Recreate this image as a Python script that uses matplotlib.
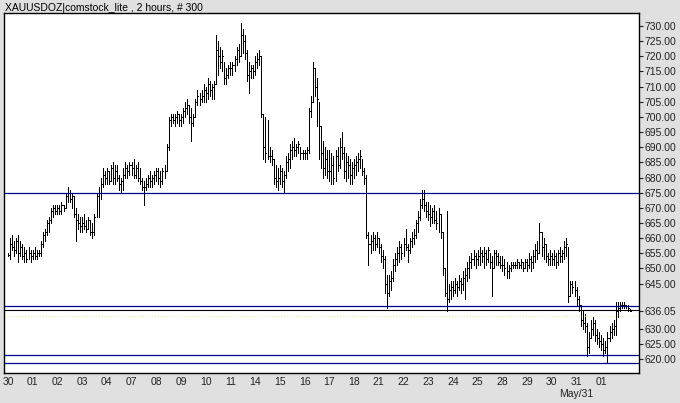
import matplotlib
matplotlib.use("Agg")
from matplotlib import pyplot as plt
import matplotlib.transforms as mtransforms

plt.rcParams["font.family"] = ["Liberation Sans", "DejaVu Sans"]

# 2-hour bars, 12 per session (last session a bit longer)
highs = [
    655, 660, 661, 659, 660, 661, 659, 658, 657, 656, 657, 656,
    656, 657, 656, 656, 659, 662, 663, 666, 667, 670, 671, 671,
    671, 671, 672, 671, 675, 677, 676, 675, 674, 670, 668, 667,
    667, 668, 666, 667, 666, 665, 668, 675, 677, 680, 683, 682,
    683, 682, 684, 685, 684, 684, 681, 680, 683, 685, 684, 685,
    685, 686, 684, 685, 683, 680, 679, 680, 681, 682, 681, 682,
    683, 683, 682, 683, 684, 691, 700, 701, 701, 701, 702, 701,
    701, 703, 705, 706, 704, 703, 701, 706, 709, 708, 709, 711,
    710, 713, 712, 711, 712, 727, 725, 723, 722, 718, 716, 717,
    718, 718, 720, 723, 724, 731, 729, 727, 722, 718, 717, 717,
    720, 721, 722, 720, 701, 700, 699, 690, 689, 686, 684, 683,
    684, 683, 682, 687, 688, 691, 692, 693, 691, 692, 690, 689,
    689, 690, 703, 707, 718, 716, 713, 705, 697, 692, 690, 689,
    689, 688, 687, 689, 690, 693, 695, 690, 688, 687, 686, 685,
    686, 687, 688, 689, 686, 683, 681, 662, 661, 662, 661, 662,
    660, 658, 656, 654, 648, 648, 649, 653, 655, 657, 659, 658,
    660, 663, 658, 660, 662, 663, 666, 669, 673, 676, 676, 672,
    672, 671, 670, 671, 669, 670, 668, 662, 650, 669, 645, 646,
    646, 647, 646, 648, 647, 649, 650, 652, 654, 655, 656, 655,
    656, 657, 656, 657, 656, 657, 655, 654, 656, 656, 655, 654,
    654, 653, 652, 651, 652, 652, 652, 653, 652, 653, 652, 653,
    653, 655, 654, 656, 658, 659, 665, 662, 660, 658, 655, 656,
    655, 656, 655, 656, 657, 656, 659, 660, 657, 646, 646, 646,
    644, 641, 638, 636, 635, 632, 629, 633, 634, 633, 630, 629,
    628, 627, 626, 629, 631, 632, 633, 639, 639, 639, 639, 639, 638, 638, 636.5,
]
lows = [
    654, 653, 656, 654, 655, 652, 654, 653, 652, 652, 653, 652,
    653, 653, 653, 654, 654, 657, 659, 661, 662, 665, 667, 668,
    668, 668, 668, 669, 670, 672, 672, 670, 667, 659, 663, 662,
    662, 663, 662, 663, 661, 660, 661, 667, 667, 673, 677, 678,
    678, 678, 679, 678, 678, 679, 676, 675, 676, 680, 680, 681,
    681, 680, 680, 679, 678, 676, 671, 676, 677, 677, 677, 678,
    679, 678, 677, 678, 680, 682, 689, 697, 698, 697, 698, 697,
    697, 698, 700, 701, 698, 692, 697, 700, 704, 704, 705, 705,
    705, 706, 707, 706, 706, 711, 714, 716, 715, 711, 711, 713,
    714, 714, 715, 717, 718, 720, 721, 719, 712, 708, 713, 713,
    714, 716, 717, 700, 686, 685, 686, 685, 684, 678, 677, 676,
    678, 677, 675, 680, 682, 683, 686, 687, 687, 688, 686, 686,
    686, 686, 688, 700, 705, 707, 697, 686, 683, 680, 681, 680,
    679, 678, 678, 679, 682, 683, 686, 680, 679, 680, 678, 678,
    680, 681, 682, 683, 681, 678, 660, 651, 655, 656, 656, 657,
    655, 652, 650, 642, 637, 641, 643, 646, 649, 651, 652, 653,
    654, 656, 652, 655, 657, 658, 660, 662, 666, 670, 669, 667,
    666, 664, 665, 665, 663, 662, 660, 648, 641, 636, 639, 640,
    641, 642, 641, 643, 642, 643, 640, 646, 647, 650, 651, 650,
    651, 651, 652, 650, 651, 652, 650, 641, 650, 651, 651, 650,
    649, 648, 647, 647, 649, 650, 650, 650, 650, 650, 649, 650,
    649, 650, 649, 650, 652, 653, 655, 654, 653, 652, 651, 651,
    651, 651, 650, 651, 652, 652, 653, 654, 639, 641, 642, 641,
    638, 636, 631, 630, 629, 621, 622, 627, 628, 626, 625, 624,
    623, 621, 622, 619, 626, 627, 628, 628, 634, 636, 637, 637, 637, 636, 636,
]
closes = [
    654.5, 658, 657, 656, 659, 655, 657, 654, 655, 653, 655, 654,
    655, 654, 655, 655, 658, 661, 662, 665, 666, 669, 670, 669,
    670, 669, 671, 670, 674, 675, 673, 674, 668, 666, 665, 664,
    665, 664, 663, 666, 662, 662, 667, 674, 675, 678, 681, 680,
    682, 679, 683, 680, 682, 680, 678, 679, 681, 683, 682, 684,
    683, 681, 683, 680, 679, 677, 677, 678, 680, 679, 680, 681,
    682, 680, 679, 682, 682, 690, 699, 700, 699, 700, 701, 699,
    700, 702, 703, 704, 700, 698, 700, 705, 707, 706, 707, 709,
    708, 711, 709, 710, 711, 722, 720, 718, 720, 713, 714, 716,
    716, 717, 719, 722, 720, 727, 725, 721, 714, 715, 716, 715,
    718, 719, 720, 701, 690, 688, 687, 687, 686, 680, 679, 680,
    682, 679, 681, 685, 686, 689, 690, 689, 690, 691, 688, 688,
    688, 689, 702, 705, 716, 710, 706, 697, 688, 683, 686, 682,
    682, 684, 680, 687, 684, 690, 688, 682, 685, 684, 681, 683,
    684, 685, 686, 687, 682, 680, 661, 658, 659, 660, 658, 660,
    657, 654, 653, 645, 642, 646, 647, 651, 653, 655, 657, 655,
    658, 657, 656, 659, 660, 661, 665, 667, 671, 673, 671, 669,
    668, 667, 669, 666, 665, 668, 662, 650, 642, 640, 643, 644,
    643, 645, 644, 646, 645, 647, 648, 650, 652, 653, 654, 653,
    654, 655, 654, 655, 653, 656, 652, 650, 655, 654, 652, 651,
    651, 650, 649, 650, 651, 651, 651, 652, 651, 652, 650, 652,
    651, 653, 652, 654, 656, 655, 662, 657, 658, 654, 653, 654,
    653, 654, 652, 655, 654, 655, 657, 658, 641, 645, 644, 643,
    640, 638, 633, 632, 631, 624, 627, 630, 632, 628, 627, 626,
    625, 623, 624, 627, 629, 630, 631, 636, 637, 638, 638, 638, 637.5, 637, 636,
]
day_labels = ["30", "01", "02", "03", "04", "07", "08", "09", "10", "11",
              "14", "15", "16", "17", "18", "21", "22", "23", "24", "25",
              "28", "29", "30", "31", "01"]
bars_per_day = 12
level_lines = [675.0, 637.6, 621.3, 618.7]   # drawn trend/support lines
last_price = 636.05
y_ticks = [620, 625, 630, 645, 650, 655, 660, 665, 670, 675, 680, 685,
           690, 695, 700, 705, 710, 715, 720, 725, 730]

bg = "#e0e0e0"
navy = "#00008c"
txt = "#222222"
fs = 7.5

fig = plt.figure(figsize=(6.8, 4.03), dpi=100, facecolor=bg)
ax = fig.add_axes([4 / 680, 30 / 403, 635 / 680, 360 / 403])
ax.set_facecolor("white")

x = list(range(len(highs)))
ax.vlines(x, lows, highs, color="black", linewidth=0.6, antialiased=False)
ax.hlines(closes, x, [i + 0.5 for i in x], color="black", linewidth=0.6,
          antialiased=False)

for lvl in level_lines:
    ax.axhline(lvl, color=navy, linewidth=0.9)
ax.axhline(last_price + 0.3, color="black", linewidth=0.8)
ax.axhline(634.4, color="#eee8a8", linewidth=0.8, linestyle=":")

ax.set_xlim(-1.9, 306.3)
ax.set_ylim(615.5, 734.3)

ax.yaxis.tick_right()
ax.set_yticks(y_ticks + [last_price])
ax.set_yticklabels(["%.2f" % v for v in y_ticks] + ["%.2f" % last_price])
ax.get_yticklabels()[-1].set_color(navy)
ax.tick_params(axis="y", direction="out", length=3, pad=1, labelsize=fs,
               colors=txt, width=0.8)

tick_pos = [i * bars_per_day for i in range(len(day_labels))]
ax.set_xticks(tick_pos)
ax.set_xticklabels(day_labels)
ax.tick_params(axis="x", length=0, pad=3, labelsize=fs, colors=txt)

for s in ax.spines.values():
    s.set_color("black")
    s.set_linewidth(1.0)

trans = mtransforms.blended_transform_factory(ax.transData, ax.transAxes)
ax.text(tick_pos[23], -0.045, "May/31", transform=trans, ha="center",
        va="top", fontsize=fs, color=txt)

fig.text(5 / 680, 1 - 8 / 403, "XAUUSDOZ|comstock_lite , 2 hours, # 300",
         ha="left", va="center", fontsize=fs, color="black")

fig.savefig("out.png", dpi=100, facecolor=bg)
